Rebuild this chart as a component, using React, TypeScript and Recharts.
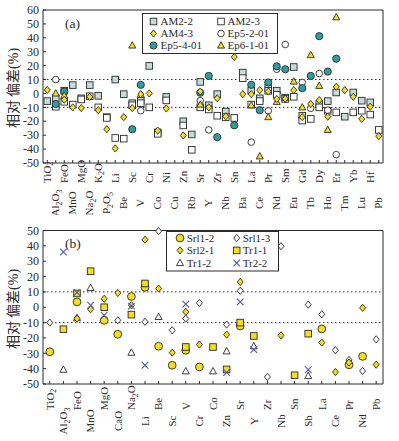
import React from 'react';
import { ScatterChart, Scatter, XAxis, YAxis, ReferenceLine, Legend } from 'recharts';

const SERIF = '"Liberation Serif", "Times New Roman", serif';
const CJK = '"Noto Sans CJK SC", sans-serif';
const INK = '#2a2a2a';
const YELLOW = '#f3df1d';
const TEAL = '#2e9fa0';
const PALE = '#c3ddd9';
const BLUE = '#4f56b3';

// ---- panel (a) ----
const catsA = ['TiO2', 'Al2O3', 'FeO', 'MnO', 'MgO', 'Na2O', 'K2O', 'P2O5', 'Li', 'Be', 'Sc', 'V', 'Cr', 'Co', 'Ni', 'Cu', 'Zn', 'Rb', 'Sr', 'Y',
  'Zr', 'Nb', 'Sn', 'Ba', 'La', 'Ce', 'Pr', 'Nd', 'Sm', 'Eu', 'Gd', 'Tb', 'Dy', 'Ho', 'Er', 'Tm', 'Yb', 'Lu', 'Hf', 'Pb'];
const yTicksA = [-50, -40, -30, -20, -10, 0, 10, 20, 30, 40, 50, 60];

const am22 = [-5.5, -3.3, 2, 6, -3.5, 6, -1.7, -17, 10, -0.5, -7, -5, 19.8, -28, -2.5, null, -20, -29.5, 8.3, -8.5,
  -0.5, -13, null, 15, 2, -3.5, 4, 2, -3, 19, -16, null, -7.6, -5.5, 0.7, -16.7, 0.7, -5.2, -6.4, null];
const am23 = [null, -9.5, -6, -8, -4.3, -2, -10, -17.6, -32, -32.5, -8.5, -7, -10, -29, -5, null, -23, -40.5, -10, -11.5,
  -16, -17, -17.6, 11, -8, -5.5, 1.9, -1, -4, -2.4, -19.5, -18.3, -10, -12.4, -13.6, null, -13.6, -12.4, -15.2, -26.2];
const am43 = [2.5, null, -4.5, -10, -10.5, -2.4, -12, -25.7, -39.5, -17, -10.5, -0.5, 0, -26.7, -10.8, null, -30.2, null, 1.4, -10,
  -3.5, -16.4, 26.2, -0.5, -0.5, 2.4, 1.4, -4, -3.8, 2.4, -17, -7.6, -4.8, -16.7, 4.8, 2.4, -2.4, -18.3, -9.5, -30.7];
const ep5201 = [null, 10, null, null, null, null, null, null, null, null, null, -12.4, null, null, null, null, null, null, -5.2, -26.2,
  null, null, null, null, -35, null, -12.5, 17.4, 35.2, null, 7.9, -10.7, 14.3, -12, -44, null, null, null, null, null];
const ep5401 = [null, -7.6, 1.4, null, null, null, null, null, null, null, -25.7, 6.2, null, null, null, null, null, null, 0.5, 12.6,
  -31.4, null, -22.9, null, 6.2, -12, 7.9, 19.5, 17.4, null, 3.8, 12.6, 41.2, 15.7, 25, null, null, null, null, null];
const ep6101 = [null, 0, -1.5, null, null, null, null, null, null, null, 34.5, -1, null, null, null, null, null, null, -8, null,
  null, null, null, null, -8.5, -45.2, -17, -6, -3.3, 8.6, -10, 27.6, 5.5, -26.2, 54.8, null, null, null, null, null];

// ---- panel (b) ----
const catsB = ['TiO2', 'Al2O3', 'FeO', 'MnO', 'MgO', 'CaO', 'Na2O', 'Li', 'Be', 'Sc', 'V', 'Cr', 'Co', 'Zn', 'Sr', 'Y', 'Zr', 'Nb', 'Sn', 'Sb',
  'La', 'Ce', 'Pr', 'Nd', 'Pb'];
const yTicksB = [-50, -40, -30, -20, -10, 0, 10, 20, 30, 40, 50];

const srl12 = [-29, null, 3.5, null, -8.5, -17.6, 7, 13, -25.4, -37.8, -28, -38.9, null, null, -12.2, null, null, null, null, null,
  -14.1, null, -37.5, -32, null];
const srl13 = [-10, null, null, null, null, -8.5, null, -9.5, 49.6, -15, -7.4, 2.8, null, -11.3, 10.7, null, -45.4, 39.8, null, 1.7,
  -4.6, -28, -34.3, -41.5, -20.9];
const srl21 = [null, null, -7.4, -1.3, 5.5, 9.3, 1.3, 44, 12.2, -29.6, -3, -24.3, null, -17.8, 16.5, null, null, -18.3, null, null,
  -23, -42.2, -36, -0.4, -37.4];
const tr11 = [null, -14.3, 9, 23.5, 0, null, -4.8, 15.5, null, null, -25.9, null, -25.9, -40.5, -10, -18.7, null, null, -44.3, -17.2,
  null, null, null, null, null];
const tr12 = [null, -40.7, -7, 12.6, null, null, -29.6, null, -6.3, null, -41.7, null, -41.7, -28.7, null, -25.4, null, null, null, -44.8,
  null, null, null, null, null];
const tr22 = [null, 36, 9.6, 1.3, -5.2, null, 0.7, -37.8, null, null, 2, null, null, -42.5, 3.5, -27.6, null, null, null, -40.7,
  null, null, null, null, null];

const seriesA = [
  { name: 'AM2-2', values: am22, kind: 'sqPale' },
  { name: 'AM4-3', values: am43, kind: 'diaYellow' },
  { name: 'Ep5-4-01', values: ep5401, kind: 'cirTeal' },
  { name: 'AM2-3', values: am23, kind: 'sqWhite' },
  { name: 'Ep5-2-01', values: ep5201, kind: 'cirWhite' },
  { name: 'Ep6-1-01', values: ep6101, kind: 'triYellow' },
];
const drawOrderA = [0, 3, 4, 2, 5, 1];

const seriesB = [
  { name: 'Srl1-2', values: srl12, kind: 'cirYellow' },
  { name: 'Srl2-1', values: srl21, kind: 'diaYellow' },
  { name: 'Tr1-2', values: tr12, kind: 'triWhite' },
  { name: 'Srl1-3', values: srl13, kind: 'diaWhite' },
  { name: 'Tr1-1', values: tr11, kind: 'sqYellow' },
  { name: 'Tr2-2', values: tr22, kind: 'xBlue' },
];
const drawOrderB = [0, 4, 2, 3, 1, 5];

const pts = (vals: (number | null)[]) =>
  vals.flatMap((v, i) => (v === null ? [] : [{ x: i, y: v }]));

function Mark({ kind, cx, cy }: { kind: string; cx: number; cy: number }) {
  const sw = 0.9;
  const sq = (fill: string) => (
    <rect x={cx - 3.3} y={cy - 3.3} width={6.6} height={6.6} fill={fill} stroke={INK} strokeWidth={sw} />
  );
  const dia = (fill: string) => (
    <polygon points={`${cx},${cy - 3.6} ${cx + 3},${cy} ${cx},${cy + 3.6} ${cx - 3},${cy}`} fill={fill} stroke={INK} strokeWidth={sw} />
  );
  const tri = (fill: string) => (
    <polygon points={`${cx},${cy - 3.8} ${cx + 3.5},${cy + 2.6} ${cx - 3.5},${cy + 2.6}`} fill={fill} stroke={INK} strokeWidth={sw} />
  );
  switch (kind) {
    case 'sqPale': return sq(PALE);
    case 'sqWhite': return sq('#fff');
    case 'sqYellow': return sq(YELLOW);
    case 'diaYellow': return dia(YELLOW);
    case 'diaWhite': return dia('#fff');
    case 'triYellow': return tri(YELLOW);
    case 'triWhite': return tri('#fff');
    case 'cirWhite': return <circle cx={cx} cy={cy} r={3.3} fill="#fff" stroke={INK} strokeWidth={sw} />;
    case 'cirTeal': return <circle cx={cx} cy={cy} r={3.6} fill={TEAL} stroke={INK} strokeWidth={sw} />;
    case 'cirYellow': return <circle cx={cx} cy={cy} r={3.9} fill={YELLOW} stroke={INK} strokeWidth={sw} />;
    default:
      return (
        <g stroke={BLUE} strokeWidth={1.1}>
          <line x1={cx - 3.3} y1={cy - 3.3} x2={cx + 3.3} y2={cy + 3.3} />
          <line x1={cx - 3.3} y1={cy + 3.3} x2={cx + 3.3} y2={cy - 3.3} />
        </g>
      );
  }
}

// digits in oxide names drawn as subscripts
function chem(s: string) {
  const parts = s.match(/\d+|\D+/g) || [s];
  let down = false;
  return parts.map((p, k) => {
    const dig = /^\d+$/.test(p);
    let dy: number | undefined;
    if (dig && !down) dy = 2.5;
    else if (!dig && down) dy = -2.5;
    down = dig;
    return <tspan key={k} dy={dy} fontSize={dig ? 8 : undefined}>{p}</tspan>;
  });
}

function CatTick(props: any) {
  const { x, y, payload, cats, upper, lower } = props;
  const i = payload.value;
  const name = cats[i];
  if (name === undefined) return null;
  const even = i % 2 === 0;
  const ty = y + (even ? upper : lower);
  return (
    <g>
      <line x1={x} y1={y} x2={x} y2={y - 3} stroke={INK} />
      <text transform={`translate(${x + 3.7},${ty}) rotate(-90)`} textAnchor={even ? 'start' : 'middle'}
        fontSize={11} fontFamily={SERIF} fill={INK}>{chem(name)}</text>
    </g>
  );
}

function ValTick(props: any) {
  const { x, y, payload } = props;
  return (
    <g>
      <line x1={x} y1={y} x2={x + 3} y2={y} stroke={INK} />
      <text x={x - 4} y={y + 4.2} textAnchor="end" fontSize={12} fontFamily={SERIF} fill={INK}>{payload.value}</text>
    </g>
  );
}

function YTitle({ midY }: any) {
  return (
    <text transform={`translate(18,${midY}) rotate(-90)`} textAnchor="middle" fontSize={14} fill={INK}>
      <tspan fontFamily={CJK}>相对 偏差</tspan>
      <tspan fontFamily={SERIF}>(%)</tspan>
    </text>
  );
}

function PanelTag({ text, tx, ty }: any) {
  return <text x={tx} y={ty} fontSize={13.5} fontFamily={SERIF} fill={INK}>{text}</text>;
}

function LegendBox({ items, w, h, rows, cols }: any) {
  return (
    <svg width={w} height={h} style={{ display: 'block' }}>
      <rect x={0.5} y={0.5} width={w - 1} height={h - 1} fill="#fff" stroke={INK} strokeWidth={1} />
      {items.map((s: any, k: number) => {
        const c = cols[Math.floor(k / 3)];
        const ry = rows[k % 3];
        return (
          <g key={s.name}>
            <Mark kind={s.kind} cx={c.sym} cy={ry} />
            <text x={c.text} y={ry + 3.8} fontSize={11} fontFamily={SERIF} fill={INK}>{s.name}</text>
          </g>
        );
      })}
    </svg>
  );
}

export default function App() {
  return (
    <div style={{ position: 'absolute', left: 0, top: 0, width: 399, height: 441, background: '#fff' }}>
      <div style={{ position: 'absolute', left: 0, top: 0 }}>
        <ScatterChart width={399} height={215} margin={{ top: 10, right: 16, bottom: 0, left: 0 }}>
          <XAxis type="number" dataKey="x" domain={[-0.5, 39.5]} ticks={catsA.map((_, i) => i)} interval={0}
            height={52} tickSize={0} tickMargin={0} tickLine={false} axisLine={{ stroke: INK }}
            tick={<CatTick cats={catsA} upper={20} lower={40} />} />
          <YAxis type="number" dataKey="y" domain={[-50, 60]} ticks={yTicksA} interval={0} width={43}
            tickSize={0} tickMargin={0} tickLine={false} axisLine={{ stroke: INK }}
            tick={<ValTick />} label={<YTitle midY={88} />} />
          <ReferenceLine y={60} stroke={INK} label={<PanelTag text="(a)" tx={65} ty={28} />} />
          <ReferenceLine x={39.5} stroke={INK} />
          <ReferenceLine y={10} stroke={INK} strokeDasharray="1.5 2.5" />
          <ReferenceLine y={-10} stroke={INK} strokeDasharray="1.5 2.5" />
          {drawOrderA.map((k) => {
            const s = seriesA[k];
            return (
              <Scatter key={s.name} name={s.name} data={pts(s.values)} isAnimationActive={false}
                shape={(p: any) => <Mark kind={s.kind} cx={p.cx} cy={p.cy} />} />
            );
          })}
          <Legend layout="vertical" align="center" verticalAlign="middle"
            wrapperStyle={{ left: 141.5, top: 12.5, width: 136, height: 41 }}
            content={() => (
              <LegendBox items={seriesA} w={136} h={41} rows={[8.5, 20.5, 32.5]}
                cols={[{ sym: 11.5, text: 18.5 }, { sym: 79, text: 85.5 }]} />
            )} />
        </ScatterChart>
      </div>
      <div style={{ position: 'absolute', left: 0, top: 215 }}>
        <ScatterChart width={399} height={226} margin={{ top: 15.5, right: 16, bottom: 0, left: 0 }}>
          <XAxis type="number" dataKey="x" domain={[-0.5, 24.5]} ticks={catsB.map((_, i) => i)} interval={0}
            height={57} tickSize={0} tickMargin={0} tickLine={false} axisLine={{ stroke: INK }}
            tick={<CatTick cats={catsB} upper={26} lower={37} />} />
          <YAxis type="number" dataKey="y" domain={[-50, 50]} ticks={yTicksB} interval={0} width={43}
            tickSize={0} tickMargin={0} tickLine={false} axisLine={{ stroke: INK }}
            tick={<ValTick />} label={<YTitle midY={94} />} />
          <ReferenceLine y={50} stroke={INK} label={<PanelTag text="(b)" tx={65} ty={33} />} />
          <ReferenceLine x={24.5} stroke={INK} />
          <ReferenceLine y={10} stroke={INK} strokeDasharray="1.5 2.5" />
          <ReferenceLine y={-10} stroke={INK} strokeDasharray="1.5 2.5" />
          {drawOrderB.map((k) => {
            const s = seriesB[k];
            return (
              <Scatter key={s.name} name={s.name} data={pts(s.values)} isAnimationActive={false}
                shape={(p: any) => <Mark kind={s.kind} cx={p.cx} cy={p.cy} />} />
            );
          })}
          <Legend layout="vertical" align="center" verticalAlign="middle"
            wrapperStyle={{ left: 166, top: 16.3, width: 113, height: 40.5 }}
            content={() => (
              <LegendBox items={seriesB} w={113} h={40.5} rows={[7, 19.4, 32]}
                cols={[{ sym: 14, text: 20.7 }, { sym: 70.7, text: 76.7 }]} />
            )} />
        </ScatterChart>
      </div>
    </div>
  );
}
